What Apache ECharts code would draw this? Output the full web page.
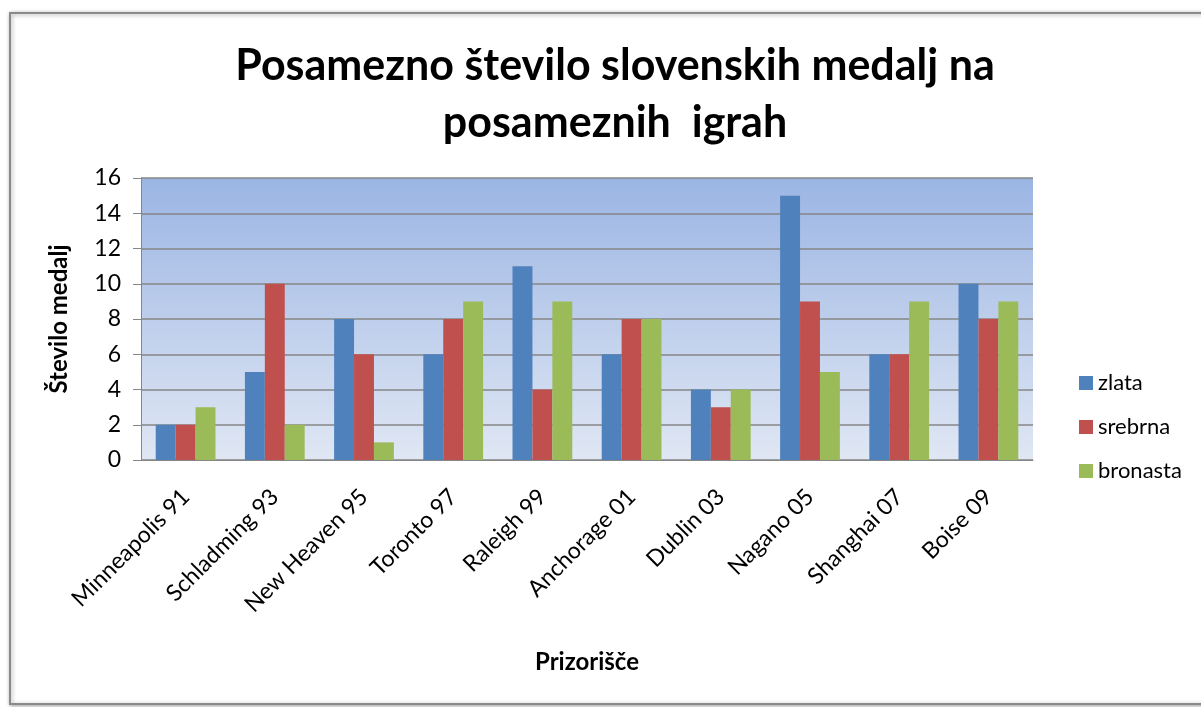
<!DOCTYPE html>
<html><head><meta charset="utf-8">
<script src="https://cdn.jsdelivr.net/npm/echarts@6/dist/echarts.min.js"></script>
<style>html,body{margin:0;padding:0;background:#fff}#c{width:1201px;height:707px}</style>
</head><body><div id="c"></div>
<script>
const categories = ['Minneapolis 91','Schladming 93','New Heaven 95','Toronto 97','Raleigh 99','Anchorage 01','Dublin 03','Nagano 05','Shanghai 07','Boise 09'];
const zlata = [2,5,8,6,11,6,4,15,6,10];
const srebrna = [2,10,6,8,4,8,3,9,6,8];
const bronasta = [3,2,1,9,9,8,4,5,9,9];
const seriesNames = ['zlata','srebrna','bronasta'];
const colors = ['#4F81BD','#C0504D','#9BBB59'];
const FONT = 'Lato, "Open Sans", sans-serif';

const gx = 141, gy = 178, gw = 1201-141-168, gh = 707-178-247;
const chart = echarts.init(document.getElementById('c'));
chart.setOption({
  animation:false,
  graphic:[
    {type:'rect',z:-10,shape:{x:10,y:13,width:1220,height:691},
      style:{fill:'#fff',stroke:'#8a8a8a',lineWidth:2,shadowBlur:4,shadowColor:'rgba(0,0,0,0.35)',shadowOffsetX:1,shadowOffsetY:1}},
    {type:'rect',z:-5,shape:{x:gx,y:gy,width:gw,height:gh},
      style:{fill:new echarts.graphic.LinearGradient(0,0,0,1,[{offset:0,color:'#9BB5E3'},{offset:1,color:'#E0E7F4'}])}}
  ],
  title:{text:'Posamezno število slovenskih medalj na\nposameznih  igrah',left:610,textAlign:'center',top:33,
    textStyle:{fontFamily:FONT,fontWeight:'bold',fontSize:43,lineHeight:57,color:'#000'}},
  legend:{orient:'vertical',left:1074,top:367,itemGap:22,itemWidth:14,itemHeight:14,icon:'rect',
    data:seriesNames,textStyle:{fontFamily:FONT,fontSize:22,color:'#000'}},
  grid:{left:gx,right:168,top:gy,bottom:247},
  xAxis:{type:'category',data:categories,
    name:'Prizorišče',nameLocation:'middle',nameGap:190,
    nameTextStyle:{fontFamily:FONT,fontWeight:'bold',fontSize:24,color:'#000'},
    axisLine:{lineStyle:{color:'#868686',width:1}},axisTick:{show:false},
    axisLabel:{rotate:45,fontFamily:FONT,fontSize:23,color:'#000',margin:33,interval:0}},
  yAxis:{type:'value',min:0,max:16,interval:2,
    name:'Število medalj',nameLocation:'middle',nameGap:70,nameRotate:90,
    nameTextStyle:{fontFamily:FONT,fontWeight:'bold',fontSize:24,color:'#000'},
    axisLine:{show:true,lineStyle:{color:'#868686'}},
    axisTick:{show:true,length:8,lineStyle:{color:'#868686'}},
    axisLabel:{fontFamily:FONT,fontSize:23,color:'#000',margin:20},
    splitLine:{lineStyle:{color:'#868686',width:1.5}},
    splitArea:{show:false}},
  series:[
    {name:'zlata',type:'bar',data:zlata,itemStyle:{color:colors[0]},barGap:'0%',barCategoryGap:'33%'},
    {name:'srebrna',type:'bar',data:srebrna,itemStyle:{color:colors[1]},barGap:'0%',barCategoryGap:'33%'},
    {name:'bronasta',type:'bar',data:bronasta,itemStyle:{color:colors[2]},barGap:'0%',barCategoryGap:'33%'}
  ]
});
</script></body></html>
